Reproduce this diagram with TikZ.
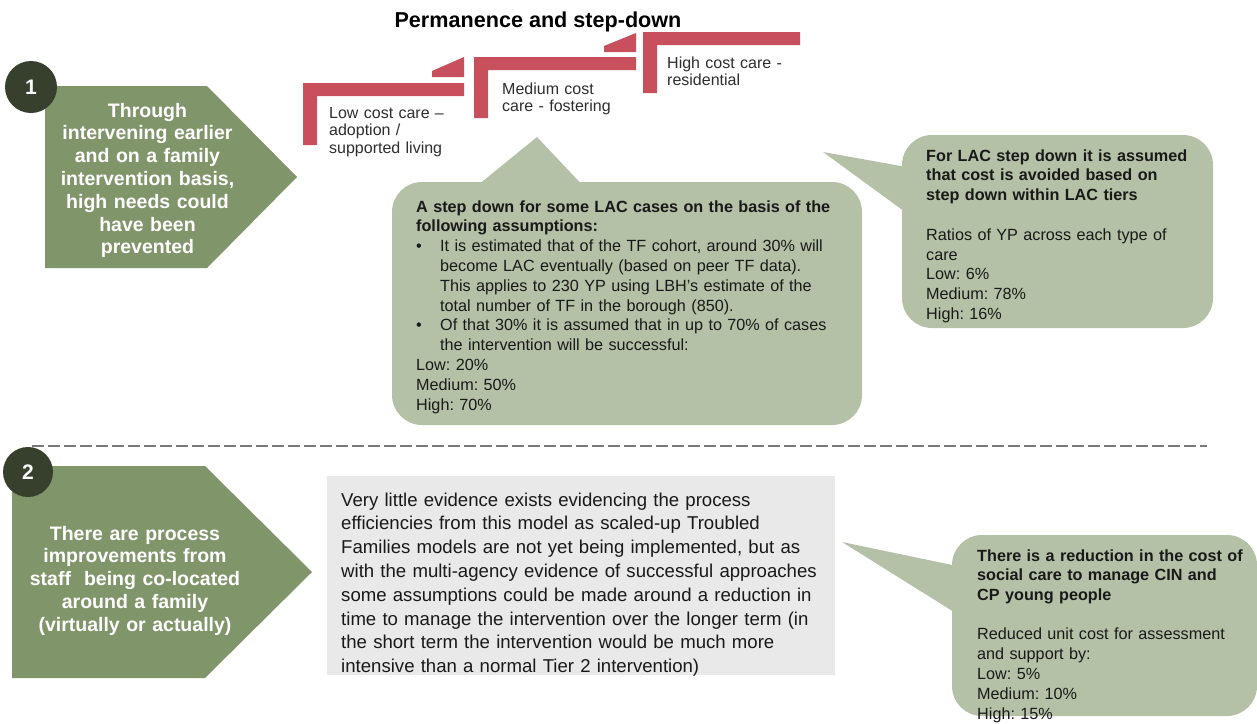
\documentclass[tikz,border=0pt]{standalone}
\usepackage{fontspec}
\setmainfont{Liberation Sans}
\frenchspacing
\definecolor{pentgreen}{RGB}{128,150,106}
\definecolor{sagefill}{RGB}{180,193,166}
\definecolor{discdark}{RGB}{55,64,45}
\definecolor{stepred}{RGB}{200,80,92}
\definecolor{boxgray}{RGB}{233,233,233}
\definecolor{inkgray}{RGB}{45,45,45}
\definecolor{inkdark}{RGB}{25,25,25}
\definecolor{dashgray}{RGB}{120,120,120}
\newcommand\fsCall{\fontsize{16.2}{19.8}\selectfont}
\newcommand\fsStep{\fontsize{16}{17.5}\selectfont}
\newcommand\fsBox{\fontsize{18.6}{23.8}\selectfont}
\newcommand\fsPent{\fontsize{19.5}{22.8}\selectfont\bfseries}
\newcommand\bul{\makebox[24pt][l]{\textbullet}}
\newcommand\ind{\hspace*{24pt}}
\begin{document}
\begin{tikzpicture}[x=1pt,y=-1pt,
  pent/.style={fill=pentgreen},
  callout/.style={fill=sagefill},
  stepbar/.style={fill=stepred},
  numtxt/.style={text=white,font=\fontsize{21}{21}\selectfont\bfseries,inner sep=0pt},
  penttxt/.style={text=white,font=\fsPent,align=center,text width=260pt,inner sep=0pt,anchor=base},
  steptxt/.style={text=inkgray,font=\fsStep,align=left,text width=170pt,inner sep=0pt,anchor=base west},
  calltxt/.style={text=inkdark,font=\fsCall,align=left,text width=460pt,inner sep=0pt,anchor=base west},
  boxtxt/.style={text=inkdark,font=\fsBox,align=left,text width=500pt,inner sep=0pt,anchor=base west}]
\useasboundingbox (0,0) rectangle (1257,723);

% ---- section 1: arrow box with number disc
\fill[pent] (45,86) -- (207,86) -- (297,177) -- (207,268) -- (45,268) -- cycle;
\fill[discdark] (31,87) circle (26pt);
\node[numtxt] (n1) at (31,87) {1};
\node[penttxt] (p1) at (147.5,117) {Through\\intervening earlier\\and on a family\\intervention basis,\\high needs could\\have been\\prevented};

% ---- title
\node[font=\fontsize{21.6}{22}\selectfont\bfseries,inner sep=0pt,anchor=base] (title) at (538,27) {Permanence and step-down};

% ---- staircase of care tiers
\fill[stepbar] (303,83) -- (464,83) -- (464,96) -- (317,96) -- (317,145) -- (303,145) -- cycle;
\fill[stepbar] (432,77) -- (464,77) -- (464,57) -- (432,71) -- cycle;
\fill[stepbar] (474,57) -- (636,57) -- (636,70) -- (488,70) -- (488,118) -- (474,118) -- cycle;
\fill[stepbar] (604,52) -- (636,52) -- (636,33) -- (604,46) -- cycle;
\fill[stepbar] (643,32) -- (800,32) -- (800,45) -- (657,45) -- (657,93) -- (643,93) -- cycle;
\node[steptxt] (low) at (329,118) {Low cost care --\\adoption /\\supported living};
\node[steptxt] (med) at (502,94) {Medium cost\\care - fostering};
\node[steptxt] (high) at (667,68) {High cost care -\\residential};

% ---- callout under the staircase
\fill[callout,rounded corners=30pt] (392,182) rectangle (862,425);
\fill[callout] (537,137) -- (587,190) -- (472,190) -- cycle;
\node[calltxt] (c1) at (416,212) {\textbf{A step down for some LAC cases on the basis of the}\\
\textbf{following assumptions:}\\
\bul It is estimated that of the TF cohort, around 30\% will\\
\ind become LAC eventually (based on peer TF data).\\
\ind This applies to 230 YP using LBH’s estimate of the\\
\ind total number of TF in the borough (850).\\
\bul Of that 30\% it is assumed that in up to 70\% of cases\\
\ind the intervention will be successful:\\
Low: 20\%\\
Medium: 50\%\\
High: 70\%};

% ---- callout on the right
\fill[callout,rounded corners=30pt] (902,135) rectangle (1213,328);
\fill[callout] (823,152) -- (912,168) -- (912,217) -- cycle;
\node[calltxt] (c2) at (926,161) {\textbf{For LAC step down it is assumed}\\
\textbf{that cost is avoided based on}\\
\textbf{step down within LAC tiers}\\[19.8pt]
Ratios of YP across each type of\\
care\\
Low: 6\%\\
Medium: 78\%\\
High: 16\%};

% ---- divider
\coordinate (divL) at (32,446);
\coordinate (divR) at (1207,446);
\draw[dashgray,line width=2pt,dash pattern=on 12pt off 4pt] (divL) -- (divR);

% ---- section 2: arrow box with number disc
\fill[pent] (12,466) -- (205,466) -- (312,572) -- (205,678) -- (12,678) -- cycle;
\fill[discdark] (28,472) circle (25pt);
\node[numtxt] (n2) at (28,472) {2};
\node[penttxt] (p2) at (135,540) {There are process\\improvements from\\staff\ \ being co-located\\around a family\\(virtually or actually)};

% ---- grey text panel
\fill[boxgray] (327,476) rectangle (835,675);
\node[boxtxt] (g) at (341,506) {Very little evidence exists evidencing the process\\
efficiencies from this model as scaled-up Troubled\\
Families models are not yet being implemented, but as\\
with the multi-agency evidence of successful approaches\\
some assumptions could be made around a reduction in\\
time to manage the intervention over the longer term (in\\
the short term the intervention would be much more\\
intensive than a normal Tier 2 intervention)};

% ---- callout bottom right
\fill[callout,rounded corners=30pt] (952,535) rectangle (1257,716);
\fill[callout] (842,542) -- (962,567) -- (962,617) -- cycle;
\node[calltxt] (c3) at (977,561) {\textbf{There is a reduction in the cost of}\\
\textbf{social care to manage CIN and}\\
\textbf{CP young people}\\[19.5pt]
Reduced unit cost for assessment\\
and support by:\\
Low: 5\%\\
Medium: 10\%\\
High: 15\%};
\end{tikzpicture}
\end{document}
